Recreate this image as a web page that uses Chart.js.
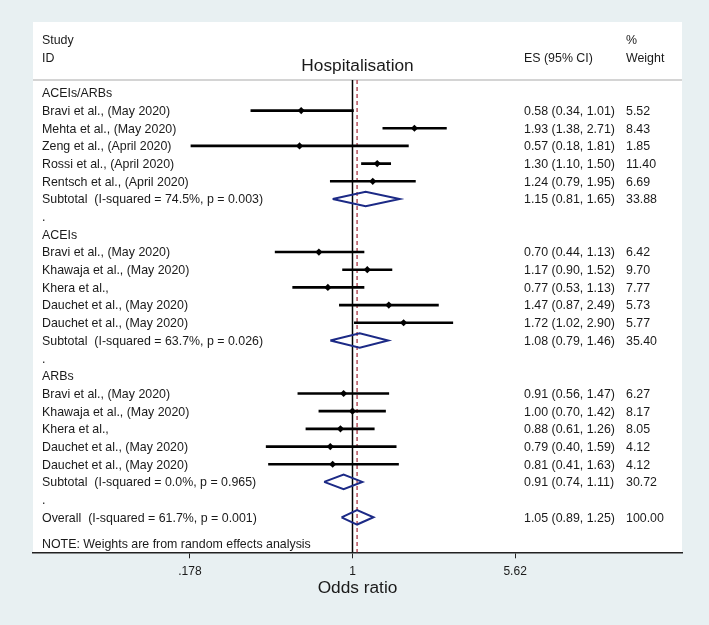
<!DOCTYPE html>
<html>
<head>
<meta charset="utf-8">
<title>Hospitalisation</title>
<script src="https://cdn.jsdelivr.net/npm/chart.js@4.4.1/dist/chart.umd.min.js"></script>
<style>
  html, body { margin: 0; padding: 0; background: #e8f0f2; }
  canvas { display: block; }
</style>
</head>
<body>
<canvas id="forest" width="709" height="625"></canvas>
<script>
// subgroups, five studies each
const groupNames = ['ACEIs/ARBs', 'ACEIs', 'ARBs'];
const studyNames = [
  'Bravi et al., (May 2020)', 'Mehta et al., (May 2020)', 'Zeng et al., (April 2020)',
  'Rossi et al., (April 2020)', 'Rentsch et al., (April 2020)',
  'Bravi et al., (May 2020)', 'Khawaja et al., (May 2020)', 'Khera et al.,',
  'Dauchet et al., (May 2020)', 'Dauchet et al., (May 2020)',
  'Bravi et al., (May 2020)', 'Khawaja et al., (May 2020)', 'Khera et al.,',
  'Dauchet et al., (May 2020)', 'Dauchet et al., (May 2020)'
];
const studyES     = [0.58, 1.93, 0.57, 1.30, 1.24, 0.70, 1.17, 0.77, 1.47, 1.72, 0.91, 1.00, 0.88, 0.79, 0.81];
const studyLow    = [0.34, 1.38, 0.18, 1.10, 0.79, 0.44, 0.90, 0.53, 0.87, 1.02, 0.56, 0.70, 0.61, 0.40, 0.41];
const studyHigh   = [1.01, 2.71, 1.81, 1.50, 1.95, 1.13, 1.52, 1.13, 2.49, 2.90, 1.47, 1.42, 1.26, 1.59, 1.63];
const studyWeight = [5.52, 8.43, 1.85, 11.40, 6.69, 6.42, 9.70, 7.77, 5.73, 5.77, 6.27, 8.17, 8.05, 4.12, 4.12];

const subtotalLabels = [
  'Subtotal  (I-squared = 74.5%, p = 0.003)',
  'Subtotal  (I-squared = 63.7%, p = 0.026)',
  'Subtotal  (I-squared = 0.0%, p = 0.965)'
];
const subtotalES     = [1.15, 1.08, 0.91];
const subtotalLow    = [0.81, 0.79, 0.74];
const subtotalHigh   = [1.65, 1.46, 1.11];
const subtotalWeight = [33.88, 35.40, 30.72];

const overallLabel = 'Overall  (I-squared = 61.7%, p = 0.001)';
const overallES = 1.05, overallLow = 0.89, overallHigh = 1.25, overallWeight = 100.00;
const noteText = 'NOTE: Weights are from random effects analysis';

const xTicks = [0.178, 1, 5.62];
const xTickLabels = ['.178', '1', '5.62'];

// layout
const X_MIN = 0.03366, X_MAX = 33.04;
const Y_MIN = -0.73, Y_MAX = 25.98;
const COL_STUDY = 42, COL_ES = 524, COL_WEIGHT = 626;
const DIAMOND_H = 0.41;
const TEXT = '#1a1a1a';
const NAVY = '#1c2a86';

// rows of the table, top to bottom
const rows = [];
groupNames.forEach((g, gi) => {
  const base = gi * 8;
  rows.push({ row: base, label: g });
  for (let i = 0; i < 5; i++) {
    const k = gi * 5 + i;
    rows.push({ row: base + 1 + i, label: studyNames[k], es: studyES[k], lo: studyLow[k],
                hi: studyHigh[k], w: studyWeight[k], kind: 'study' });
  }
  rows.push({ row: base + 6, label: subtotalLabels[gi], es: subtotalES[gi], lo: subtotalLow[gi],
              hi: subtotalHigh[gi], w: subtotalWeight[gi], kind: 'pooled' });
  rows.push({ row: base + 7, label: '.' });
});
rows.push({ row: 24, label: overallLabel, es: overallES, lo: overallLow, hi: overallHigh,
            w: overallWeight, kind: 'pooled' });
rows.push({ row: 25.5, label: noteText });

const studyRows = rows.filter(r => r.kind === 'study');
const pooledRows = rows.filter(r => r.kind === 'pooled');

const fmt = v => v.toFixed(2);

const panelBackground = {
  id: 'panelBackground',
  beforeDraw(chart) {
    const { ctx, chartArea: a } = chart;
    ctx.save();
    ctx.fillStyle = '#e8f0f2';
    ctx.fillRect(0, 0, chart.width, chart.height);
    ctx.fillStyle = '#ffffff';
    ctx.fillRect(a.left, 22, a.right - a.left, a.bottom - 22);
    ctx.restore();
  }
};

const refLines = {
  id: 'refLines',
  beforeDatasetsDraw(chart) {
    const { ctx, chartArea: a, scales: { x } } = chart;
    ctx.save();
    ctx.strokeStyle = '#c6c6c6';
    ctx.lineWidth = 1.5;
    ctx.beginPath();
    ctx.moveTo(a.left, a.top);
    ctx.lineTo(a.right, a.top);
    ctx.stroke();

    const x1 = x.getPixelForValue(1);
    ctx.strokeStyle = '#000';
    ctx.lineWidth = 1.5;
    ctx.beginPath();
    ctx.moveTo(x1, a.top);
    ctx.lineTo(x1, a.bottom);
    ctx.stroke();

    const xo = x.getPixelForValue(overallES);
    ctx.strokeStyle = '#b4505c';
    ctx.setLineDash([4, 3]);
    ctx.beginPath();
    ctx.moveTo(xo, a.top);
    ctx.lineTo(xo, a.bottom);
    ctx.stroke();
    ctx.restore();
  }
};

const tableText = {
  id: 'tableText',
  afterDraw(chart) {
    const { ctx, scales: { y } } = chart;
    ctx.save();
    ctx.font = '12.4px "Liberation Sans", Arial, sans-serif';
    ctx.fillStyle = TEXT;
    ctx.textBaseline = 'middle';
    const put = (t, col, row) => ctx.fillText(t, col, y.getPixelForValue(row) + 1);
    put('Study', COL_STUDY, -3);
    put('ID', COL_STUDY, -2);
    put('ES (95% CI)', COL_ES, -2);
    put('%', COL_WEIGHT, -3);
    put('Weight', COL_WEIGHT, -2);
    rows.forEach(r => {
      put(r.label, COL_STUDY, r.row);
      if (r.kind) {
        put(`${fmt(r.es)} (${fmt(r.lo)}, ${fmt(r.hi)})`, COL_ES, r.row);
        put(fmt(r.w), COL_WEIGHT, r.row);
      }
    });
    ctx.restore();
  }
};

Chart.defaults.font.family = '"Liberation Sans", Arial, sans-serif';
Chart.defaults.color = TEXT;

const datasets = [
  {
    type: 'bar',
    indexAxis: 'y',
    data: studyRows.map(r => ({ y: r.row, x: [r.lo, r.hi] })),
    backgroundColor: '#000',
    borderWidth: 0,
    barThickness: 2
  },
  {
    type: 'scatter',
    data: studyRows.map(r => ({ x: r.es, y: r.row })),
    pointStyle: 'rectRot',
    pointRadius: 3.6,
    backgroundColor: '#000',
    borderWidth: 0
  }
];
pooledRows.forEach(r => {
  datasets.push({
    type: 'line',
    data: [
      { x: r.lo, y: r.row },
      { x: r.es, y: r.row - DIAMOND_H },
      { x: r.hi, y: r.row },
      { x: r.es, y: r.row + DIAMOND_H },
      { x: r.lo, y: r.row }
    ],
    borderColor: NAVY,
    borderWidth: 2,
    pointRadius: 0,
    fill: false,
    tension: 0
  });
});

new Chart(document.getElementById('forest'), {
  type: 'scatter',
  data: { datasets },
  options: {
    responsive: false,
    animation: false,
    layout: { padding: { left: 33, right: 27, top: 45, bottom: 28 } },
    plugins: {
      legend: { display: false },
      tooltip: { enabled: false },
      title: {
        display: true,
        text: 'Hospitalisation',
        color: TEXT,
        font: { size: 17.3, weight: 'normal', lineHeight: 1.2 },
        padding: { top: 10.6, bottom: 3.6 }
      }
    },
    scales: {
      x: {
        type: 'logarithmic',
        min: X_MIN,
        max: X_MAX,
        afterBuildTicks: axis => { axis.ticks = xTicks.map(v => ({ value: v })); },
        ticks: {
          callback: (v, i) => xTickLabels[i],
          font: { size: 12 },
          color: TEXT,
          padding: 6,
          maxRotation: 0,
          autoSkip: false
        },
        grid: { drawOnChartArea: false, tickLength: 6, tickColor: '#222', lineWidth: 1 },
        border: { color: '#222', width: 1.5 },
        title: {
          display: true,
          text: 'Odds ratio',
          color: TEXT,
          font: { size: 17.3, lineHeight: 1 },
          padding: { top: -5, bottom: 0 }
        }
      },
      y: {
        type: 'linear',
        display: false,
        reverse: true,
        offset: false,
        grid: { offset: false },
        min: Y_MIN,
        max: Y_MAX
      }
    }
  },
  plugins: [panelBackground, refLines, tableText]
});
</script>
</body>
</html>
